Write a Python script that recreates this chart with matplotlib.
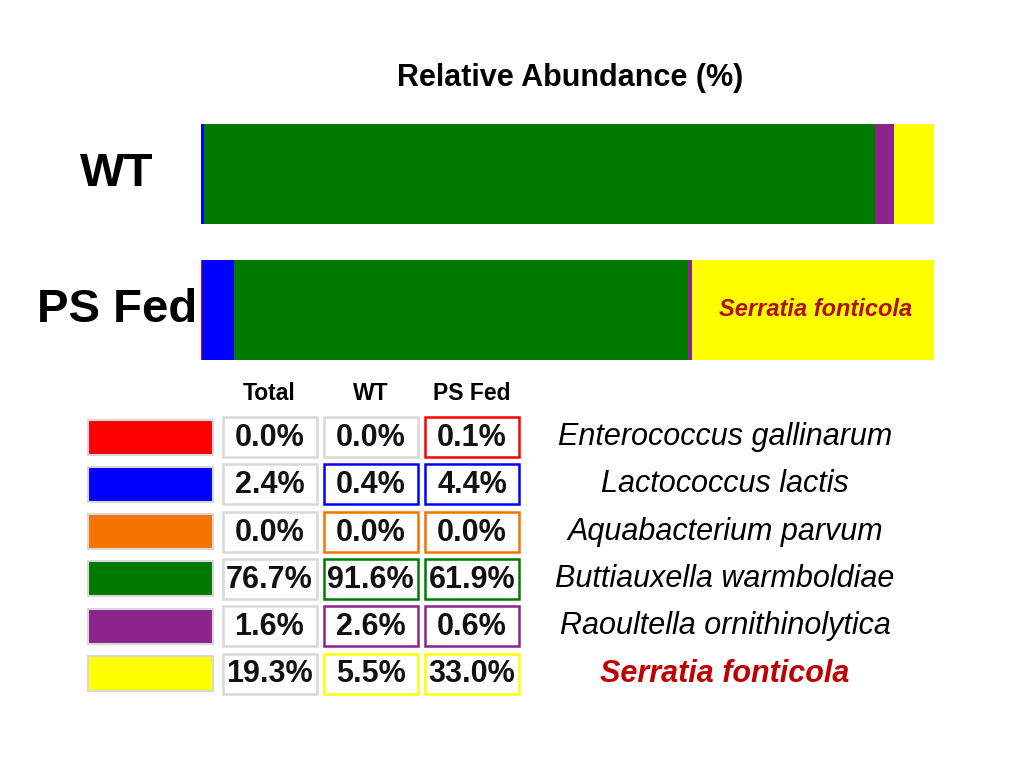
import matplotlib
matplotlib.use("Agg")
import matplotlib.pyplot as plt
from matplotlib.patches import Rectangle
from matplotlib.transforms import blended_transform_factory

plt.rcParams['font.family'] = ['Liberation Sans', 'DejaVu Sans']

# ---- data ----
samples = ["WT", "PS Fed"]
species = ["Enterococcus gallinarum", "Lactococcus lactis", "Aquabacterium parvum",
           "Buttiauxella warmboldiae", "Raoultella ornithinolytica", "Serratia fonticola"]
colors = ["#ff0000", "#0000ff", "#f57300", "#007a00", "#8b258b", "#ffff00"]
total_pct = [0.0, 2.4, 0.0, 76.7, 1.6, 19.3]
wt_pct = [0.0, 0.4, 0.0, 91.6, 2.6, 5.5]
psfed_pct = [0.1, 4.4, 0.0, 61.9, 0.6, 33.0]
table_headers = ["Total", "WT", "PS Fed"]
wt_border_colored = [False, True, True, True, True, True]
highlight = "Serratia fonticola"

W, H = 1024, 767
fig = plt.figure(figsize=(W / 100, H / 100), dpi=100)
fig.patch.set_facecolor("white")

# ---- stacked bars ----
bx0, bx1, by0, by1 = 201, 934, 124, 360
ax = fig.add_axes([bx0 / W, (H - by1) / H, (bx1 - bx0) / W, (by1 - by0) / H])
series = [wt_pct, psfed_pct]
for yi, vals in enumerate(series):
    left = 0.0
    for v, c in zip(vals, colors):
        if v > 0:
            ax.barh(yi, v, left=left, height=0.74, color=c, edgecolor="none")
        left += v
ax.set_xlim(0, 100)
ax.set_ylim(1.37, -0.37)
ax.axis("off")

tr = blended_transform_factory(fig.transFigure, ax.transData)
for yi, s in enumerate(samples):
    ax.text(117 / W, yi, s, transform=tr, ha="center", va="center",
            fontsize=34, fontweight="bold", color="black")

# label inside the PS Fed yellow segment
ps_left = sum(psfed_pct[:5])
ax.text((ps_left + 100) / 2 + 0.3, 1, highlight, ha="center", va="center",
        fontsize=17, fontweight="bold", fontstyle="italic", color="#b01010")

fig.text(570 / W, 1 - 78 / H, "Relative Abundance (%)", ha="center", va="center",
         fontsize=22, fontweight="bold", color="black")

# ---- table ----
tax = fig.add_axes([0, 0, 1, 1])
tax.set_xlim(0, W)
tax.set_ylim(H, 0)
tax.axis("off")

gray = "#d8d8d8"
row_y0, row_dy = 437, 47.3
sw_x, sw_w, sw_h = 88, 125, 35
col_cx = [269.5, 370.5, 472]
cell_w, cell_h = 94, 40

for j, h in enumerate(table_headers):
    tax.text(col_cx[j], 393, h, ha="center", va="center",
             fontsize=16.5, fontweight="bold", color="black")

for i, sp in enumerate(species):
    cy = row_y0 + i * row_dy
    tax.add_patch(Rectangle((sw_x, cy - sw_h / 2), sw_w, sw_h, facecolor=colors[i],
                            edgecolor=gray, linewidth=1.5))
    vals = [total_pct[i], wt_pct[i], psfed_pct[i]]
    borders = [gray, colors[i] if wt_border_colored[i] else gray, colors[i]]
    for j in range(3):
        tax.add_patch(Rectangle((col_cx[j] - cell_w / 2, cy - cell_h / 2), cell_w, cell_h,
                                facecolor="white", edgecolor=borders[j], linewidth=1.8))
        tax.text(col_cx[j], cy + 1, f"{vals[j]:.1f}%", ha="center", va="center",
                 fontsize=22, fontweight="bold", color="#111111")
    if sp == highlight:
        tax.text(725, cy, sp, ha="center", va="center", fontsize=22,
                 fontweight="bold", fontstyle="italic", color="#c00000")
    else:
        tax.text(725, cy, sp, ha="center", va="center", fontsize=22,
                 fontstyle="italic", color="black")

fig.savefig("out.png", dpi=100, facecolor="white")
